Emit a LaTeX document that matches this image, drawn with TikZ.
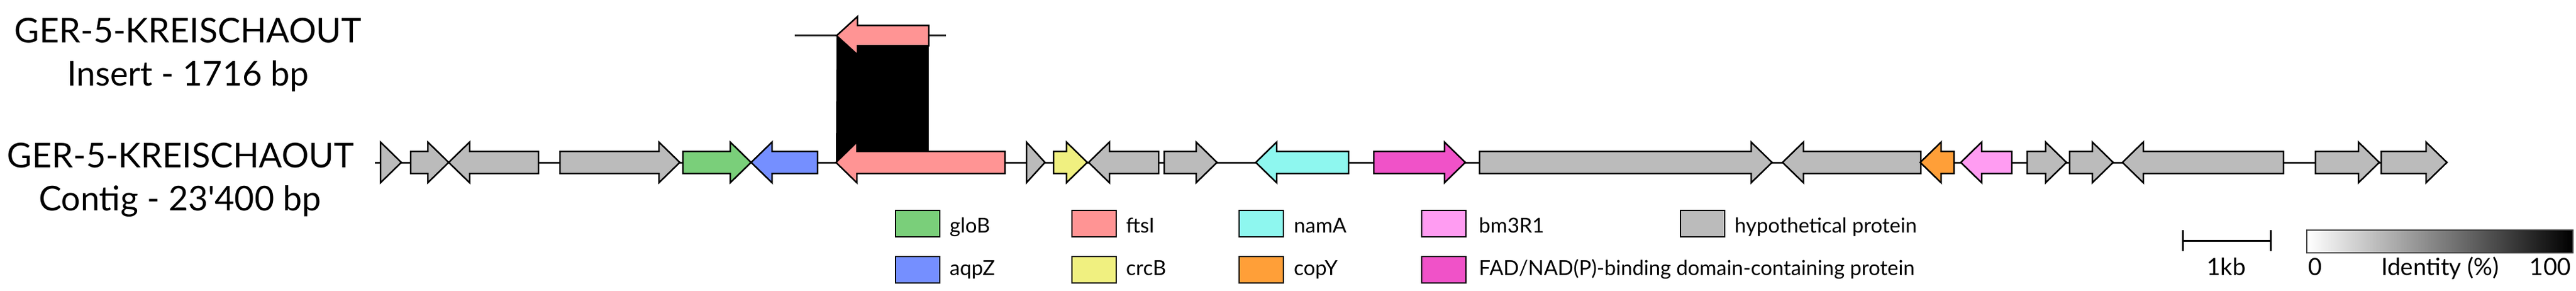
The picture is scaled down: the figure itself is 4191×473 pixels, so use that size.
\documentclass[tikz,border=0pt]{standalone}
\usepackage{fontspec}
\newfontfamily\lf{Lato}
\definecolor{cgray}{HTML}{BBBBBB}
\definecolor{cgreen}{HTML}{7ACF7A}
\definecolor{cblue}{HTML}{758FFF}
\definecolor{csalmon}{HTML}{FF9494}
\definecolor{cyellow}{HTML}{F0F080}
\definecolor{ccyan}{HTML}{8EF7EF}
\definecolor{cmagenta}{HTML}{F052C8}
\definecolor{cpink}{HTML}{FF9CF2}
\definecolor{corange}{HTML}{FF9F38}
\def\gH{33}\def\gB{18}
\newcommand{\geneR}[4]{%
  \pgfmathsetmacro\gHead{max(#1,#2-34)}%
  \draw[genebox,fill=#3] (#1,#4-\gB) -- (\gHead,#4-\gB) -- (\gHead,#4-\gH) -- (#2,#4) -- (\gHead,#4+\gH) -- (\gHead,#4+\gB) -- (#1,#4+\gB) -- cycle;}
\newcommand{\geneL}[4]{%
  \pgfmathsetmacro\gHead{min(#2,#1+34)}%
  \draw[genebox,fill=#3] (#2,#4-\gB) -- (\gHead,#4-\gB) -- (\gHead,#4-\gH) -- (#1,#4) -- (\gHead,#4+\gH) -- (\gHead,#4+\gB) -- (#2,#4+\gB) -- cycle;}
\begin{document}
\begin{tikzpicture}[x=1pt,y=-1pt,
  genebox/.style={draw=black,line width=2.5pt,line join=miter},
  backbone/.style={draw=black!85,line width=3pt},
  lgbox/.style={draw=black,line width=2pt},
  titletext/.style={font=\lf\fontsize{55.5}{66}\selectfont,anchor=base,inner sep=0pt},
  legtext/.style={font=\lf\fontsize{33.5}{40}\selectfont,anchor=base west,inner sep=0pt},
  scaletext/.style={font=\lf\fontsize{38.5}{46}\selectfont,anchor=base,inner sep=0pt}]
\useasboundingbox (0,0) rectangle (4191,473);
% labels
\node[titletext] (t1) at (306,70) {GER-5-KREISCHAOUT};
\node[titletext] (t2) at (306,140) {Insert - 1716 bp};
\node[titletext] (t3) at (294,272) {GER-5-KREISCHAOUT};
\node[titletext] (t4) at (293,342) {Contig - 23'400 bp};
% identity link
\fill[black] (1361,58) -- (1511,58) -- (1511,264) -- (1360,264) -- cycle;
% insert
\draw[backbone] (1293,58) -- (1539,58);
\def\gH{31}\def\gB{16.5}
\geneL{1361}{1511}{csalmon}{58}
\def\gH{33}\def\gB{18}
% contig
\draw[backbone] (610,264) -- (3981,264);
\geneR{619}{653}{cgray}{264}
\geneR{668}{730}{cgray}{264}
\geneL{730}{876}{cgray}{264}
\geneR{911}{1106}{cgray}{264}
\geneR{1111}{1222}{cgreen}{264}
\geneL{1222}{1330}{cblue}{264}
\geneL{1360}{1635}{csalmon}{264}
\geneR{1670}{1700}{cgray}{264}
\geneR{1714}{1769}{cyellow}{264}
\geneL{1771}{1885}{cgray}{264}
\geneR{1894}{1980}{cgray}{264}
\geneL{2043}{2194}{ccyan}{264}
\geneR{2235}{2384}{cmagenta}{264}
\geneR{2407}{2883}{cgray}{264}
\geneL{2900}{3125}{cgray}{264}
\geneL{3124}{3179}{corange}{264}
\geneL{3190}{3273}{cpink}{264}
\geneR{3298}{3362}{cgray}{264}
\geneR{3367}{3438}{cgray}{264}
\geneL{3453}{3715}{cgray}{264}
\geneR{3767}{3871}{cgray}{264}
\geneR{3874}{3981}{cgray}{264}
% legend
\draw[lgbox,fill=cgreen] (1457,342) rectangle (1529,385);
\node[legtext] (l1) at (1545,378) {gloB};
\draw[lgbox,fill=csalmon] (1744,342) rectangle (1816,385);
\node[legtext] (l2) at (1832,378) {ftsI};
\draw[lgbox,fill=ccyan] (2016,342) rectangle (2088,385);
\node[legtext] (l3) at (2105,378) {namA};
\draw[lgbox,fill=cpink] (2313,342) rectangle (2385,385);
\node[legtext] (l4) at (2406,378) {bm3R1};
\draw[lgbox,fill=cgray] (2734,342) rectangle (2806,385);
\node[legtext] (l5) at (2822,378) {hypothetical protein};
\draw[lgbox,fill=cblue] (1457,417) rectangle (1529,460);
\node[legtext] (l6) at (1545,447) {aqpZ};
\draw[lgbox,fill=cyellow] (1744,417) rectangle (1816,460);
\node[legtext] (l7) at (1832,447) {crcB};
\draw[lgbox,fill=corange] (2016,417) rectangle (2088,460);
\node[legtext] (l8) at (2105,447) {copY};
\draw[lgbox,fill=cmagenta] (2313,417) rectangle (2385,460);
\node[legtext] (l9) at (2406,447) {FAD/NAD(P)-binding domain-containing protein};
% scale bar
\coordinate (sbl) at (3551,391);
\coordinate (sbr) at (3694,391);
\draw[line width=3pt] (sbl) -- (sbr);
\draw[line width=3pt] ([yshift=17pt]sbl) -- ([yshift=-17pt]sbl);
\draw[line width=3pt] ([yshift=17pt]sbr) -- ([yshift=-17pt]sbr);
\node[scaletext] (kb) at (3622,447) {1kb};
% identity gradient
\shade[left color=white,right color=black] (3753,374) rectangle (4186,411);
\draw[draw=black!75,line width=2pt] (3753,374) rectangle (4186,411);
\node[scaletext,anchor=base west] (s0) at (3755,447) {0};
\node[scaletext] (sid) at (3970,447) {Identity (\%)};
\node[scaletext,anchor=base east] (s100) at (4183,447) {100};
\end{tikzpicture}
\end{document}
